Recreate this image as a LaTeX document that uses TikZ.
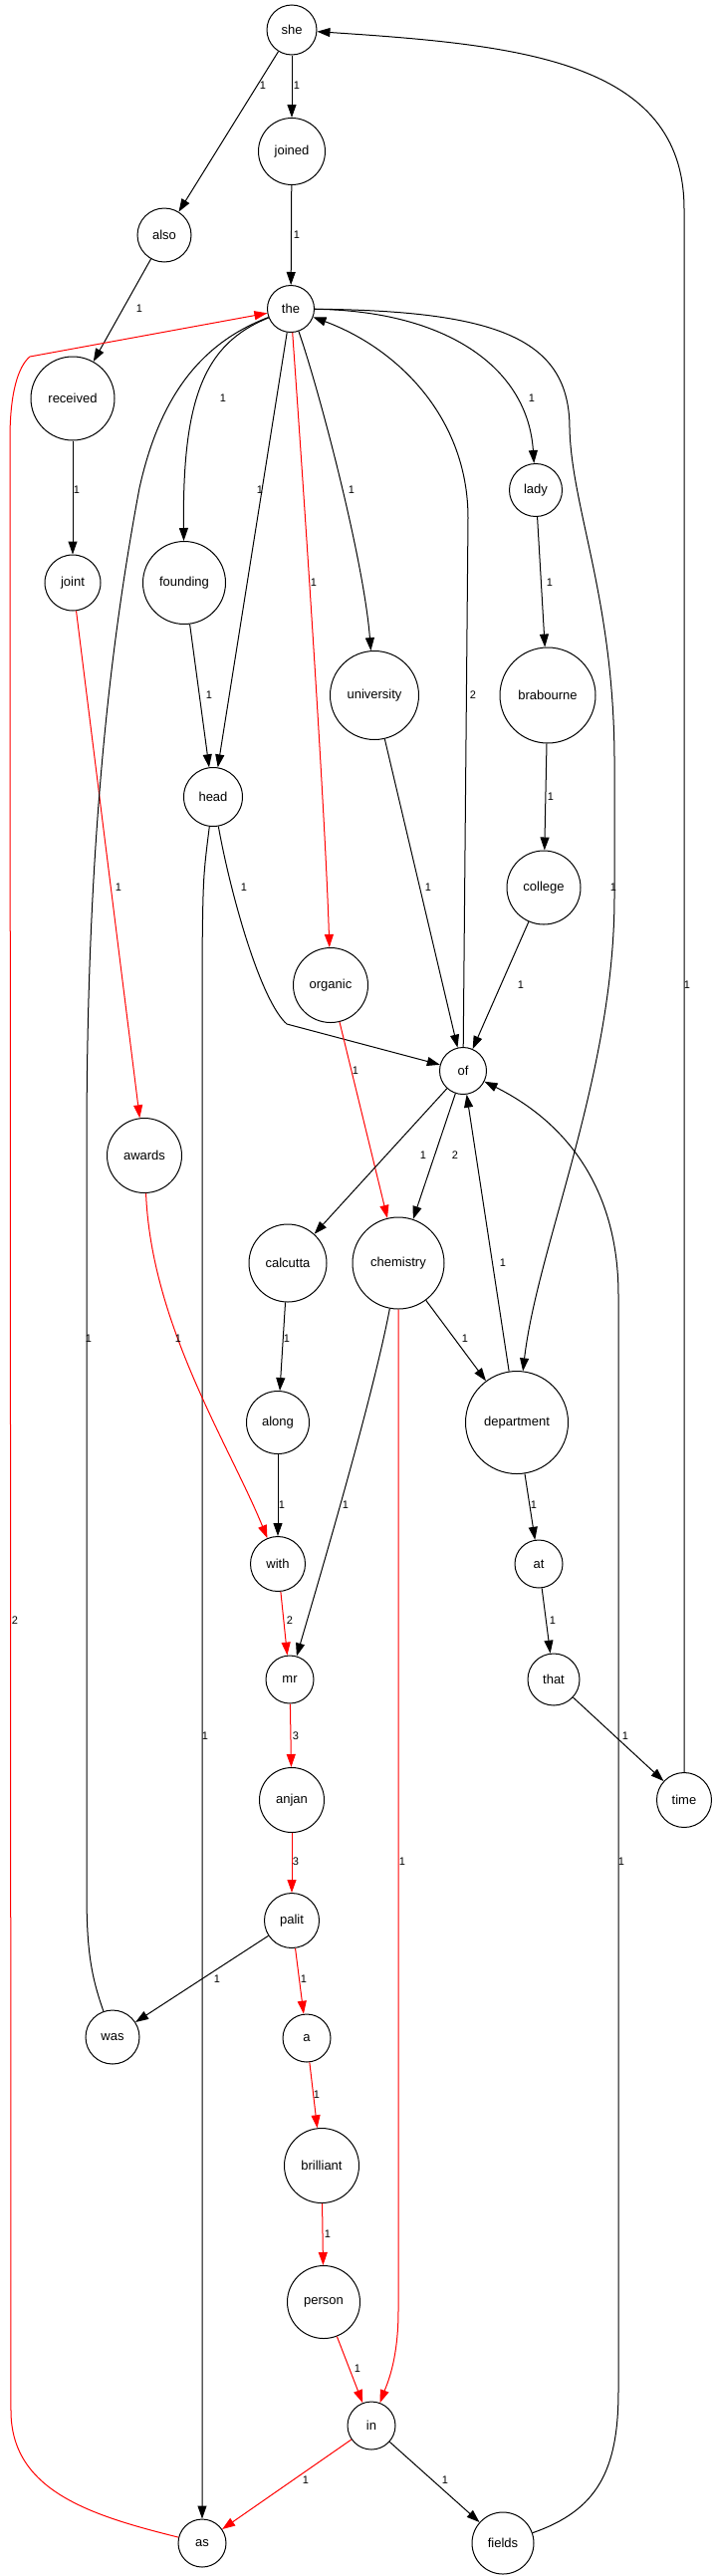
\documentclass[tikz,border=0pt]{standalone}
\usepackage{fontspec}
\setmainfont{Liberation Sans}
\usetikzlibrary{arrows.meta}
\tikzset{
>={Triangle[length=13pt,width=9pt]}, % filled heads
word/.style={circle, draw=black, line width=1pt, inner sep=0pt, minimum size=#1pt, font=\fontsize{13}{15}\selectfont}, % one circle per word
word/.default=48,
link/.style={->, line width=1pt}, % black edge
hot/.style={link, red}, % red edge
plain/.style={line width=1pt}, % edge with no head
lbl/.style={text=black, inner sep=1pt, font=\fontsize{11}{13}\selectfont}, % edge weight
}

\begin{document}
\begin{tikzpicture}[x=1pt, y=-1pt]
      \path[fill=white, use as bounding box] (0,0) rectangle (717,2586);

      \node[word=50] (she) at (293,30) {she};
      \node[word=67] (joined) at (293,152) {joined};
      \node[word=54] (also) at (165,236) {also};
      \node[word=47] (the) at (292,310) {the};
      \node[word=84] (received) at (73,400) {received};
      \node[word=53] (lady) at (538,492) {lady};
      \node[word=56] (joint) at (73,585) {joint};
      \node[word=83] (founding) at (185,585) {founding};
      \node[word=89] (university) at (376,698) {university};
      \node[word=96] (brabourne) at (550,698) {brabourne};
      \node[word=59] (head) at (214,800) {head};
      \node[word=74] (college) at (546,891) {college};
      \node[word=75] (organic) at (332,989) {organic};
      \node[word=47] (of) at (465,1075) {of};
      \node[word=75] (awards) at (145,1160) {awards};
      \node[word=78] (calcutta) at (289,1268) {calcutta};
      \node[word=92] (chemistry) at (400,1268) {chemistry};
      \node[word=63] (along) at (279,1428) {along};
      \node[word=103] (department) at (519,1428) {department};
      \node[word=55] (with) at (279,1570) {with};
      \node[word=48] (at) at (541,1570) {at};
      \node[word=48] (mr) at (291,1686) {mr};
      \node[word=52] (that) at (556,1686) {that};
      \node[word=65] (anjan) at (293,1807) {anjan};
      \node[word=55] (time) at (687,1807) {time};
      \node[word=55] (palit) at (293,1928) {palit};
      \node[word=54] (was) at (113,2045) {was};
      \node[word=48] (a) at (308,2046) {a};
      \node[word=75] (brilliant) at (323,2174) {brilliant};
      \node[word=73] (person) at (325,2311) {person};
      \node[word=48] (in) at (373,2435) {in};
      \node[word=48] (as) at (203,2553) {as};
      \node[word=62] (fields) at (505,2553) {fields};

      \draw[link] (she) -- (also) node[lbl] at (264,86) {1};
      \draw[link] (she) -- (joined) node[lbl] at (298,86) {1};
      \draw[link] (joined) -- (the) node[lbl] at (298,236) {1};
      \draw[link] (also) -- (received) node[lbl] at (140,310) {1};
      \draw[link] (received) -- (joint) node[lbl] at (77,492) {1};
      \draw[link] (the) .. controls (205,345) and (183,400) .. (founding) node[lbl] at (224,400) {1};
      \draw[link] (the) -- (head) node[lbl] at (261,492) {1};
      \draw[link] (founding) -- (head) node[lbl] at (210,698) {1};
      \draw[hot] (the) .. controls (302,450) and (326,800) .. (organic) node[lbl] at (315,585) {1};
      \draw[link] (the) .. controls (320,390) and (365,560) .. (university) node[lbl] at (353,492) {1};
      \draw[link] (the) .. controls (450,312) and (530,370) .. (lady) node[lbl] at (534,400) {1};
      \draw[link] (the) .. controls (500,312) and (572,340) .. (572,430)
        .. controls (574,510) and (616,600) .. (617,760) -- (617,900)
        .. controls (617,1080) and (540,1250) .. (department) node[lbl] at (616,891) {1};
      \draw[link] (of) -- (470,520) .. controls (470,420) and (400,350) .. (the) node[lbl] at (475,698) {2};
      \draw[link] (university) -- (of) node[lbl] at (430,891) {1};
      \draw[link] (lady) -- (brabourne) node[lbl] at (552,585) {1};
      \draw[link] (brabourne) -- (college) node[lbl] at (553,800) {1};
      \draw[link] (college) -- (of) node[lbl] at (523,989) {1};
      \draw[link] (head) .. controls (232,900) and (262,1005) .. (288,1028) -- (of) node[lbl] at (245,891) {1};
      \draw[link] (head) .. controls (204,880) .. (203,960) -- (as) node[lbl] at (206,1743) {1};
      \draw[hot] (joint) -- (awards) node[lbl] at (119,891) {1};
      \draw[hot] (organic) -- (chemistry) node[lbl] at (357,1075) {1};
      \draw[link] (of) -- (calcutta) node[lbl] at (425,1160) {1};
      \draw[link] (of) -- (chemistry) node[lbl] at (457,1160) {2};
      \draw[link] (department) -- (of) node[lbl] at (505,1268) {1};
      \draw[link] (fields) .. controls (600,2520) and (621,2480) .. (621,2400) -- (621,1300)
        .. controls (621,1200) and (575,1130) .. (of) node[lbl] at (624,1869) {1};
      \draw[hot] (awards) .. controls (152,1330) and (230,1450) .. (with) node[lbl] at (179,1344) {1};
      \draw[link] (calcutta) -- (along) node[lbl] at (288,1344) {1};
      \draw[link] (chemistry) -- (department) node[lbl] at (467,1344) {1};
      \draw[link] (chemistry) .. controls (375,1400) and (325,1570) .. (mr) node[lbl] at (347,1511) {1};
      \draw[hot] (chemistry) -- (400,2320) .. controls (400,2370) and (388,2395) .. (in) node[lbl] at (404,1869) {1};
      \draw[link] (along) -- (with) node[lbl] at (283,1511) {1};
      \draw[link] (department) -- (at) node[lbl] at (536,1511) {1};
      \draw[hot] (with) -- (mr) node[lbl] at (291,1627) {2};
      \draw[link] (at) -- (that) node[lbl] at (555,1627) {1};
      \draw[hot] (mr) -- (anjan) node[lbl] at (297,1743) {3};
      \draw[link] (that) -- (time) node[lbl] at (628,1743) {1};
      \draw[link] (time) -- (687,210) .. controls (687,60) and (520,45) .. (she) node[lbl] at (690,989) {1};
      \draw[hot] (anjan) -- (palit) node[lbl] at (297,1869) {3};
      \draw[link] (palit) -- (was) node[lbl] at (218,1987) {1};
      \draw[hot] (palit) -- (a) node[lbl] at (305,1987) {1};
      \draw[plain] (was) .. controls (92,1985) and (87,1960) .. (87,1900) -- (87,1150)
        .. controls (87,850) and (110,650) .. (140,490)
        .. controls (160,400) and (200,345) .. (the) node[lbl] at (89,1344) {1};
      \draw[hot] (a) -- (brilliant) node[lbl] at (318,2103) {1};
      \draw[hot] (brilliant) -- (person) node[lbl] at (329,2243) {1};
      \draw[hot] (person) -- (in) node[lbl] at (359,2378) {1};
      \draw[hot] (in) -- (as) node[lbl] at (307,2490) {1};
      \draw[link] (in) -- (fields) node[lbl] at (447,2490) {1};
      \draw[hot] (as) .. controls (90,2525) and (11,2500) .. (11,2420) -- (10,440)
        .. controls (10,395) and (18,368) .. (30,358) -- (the) node[lbl] at (15,1627) {2};
\end{tikzpicture}
\end{document}
